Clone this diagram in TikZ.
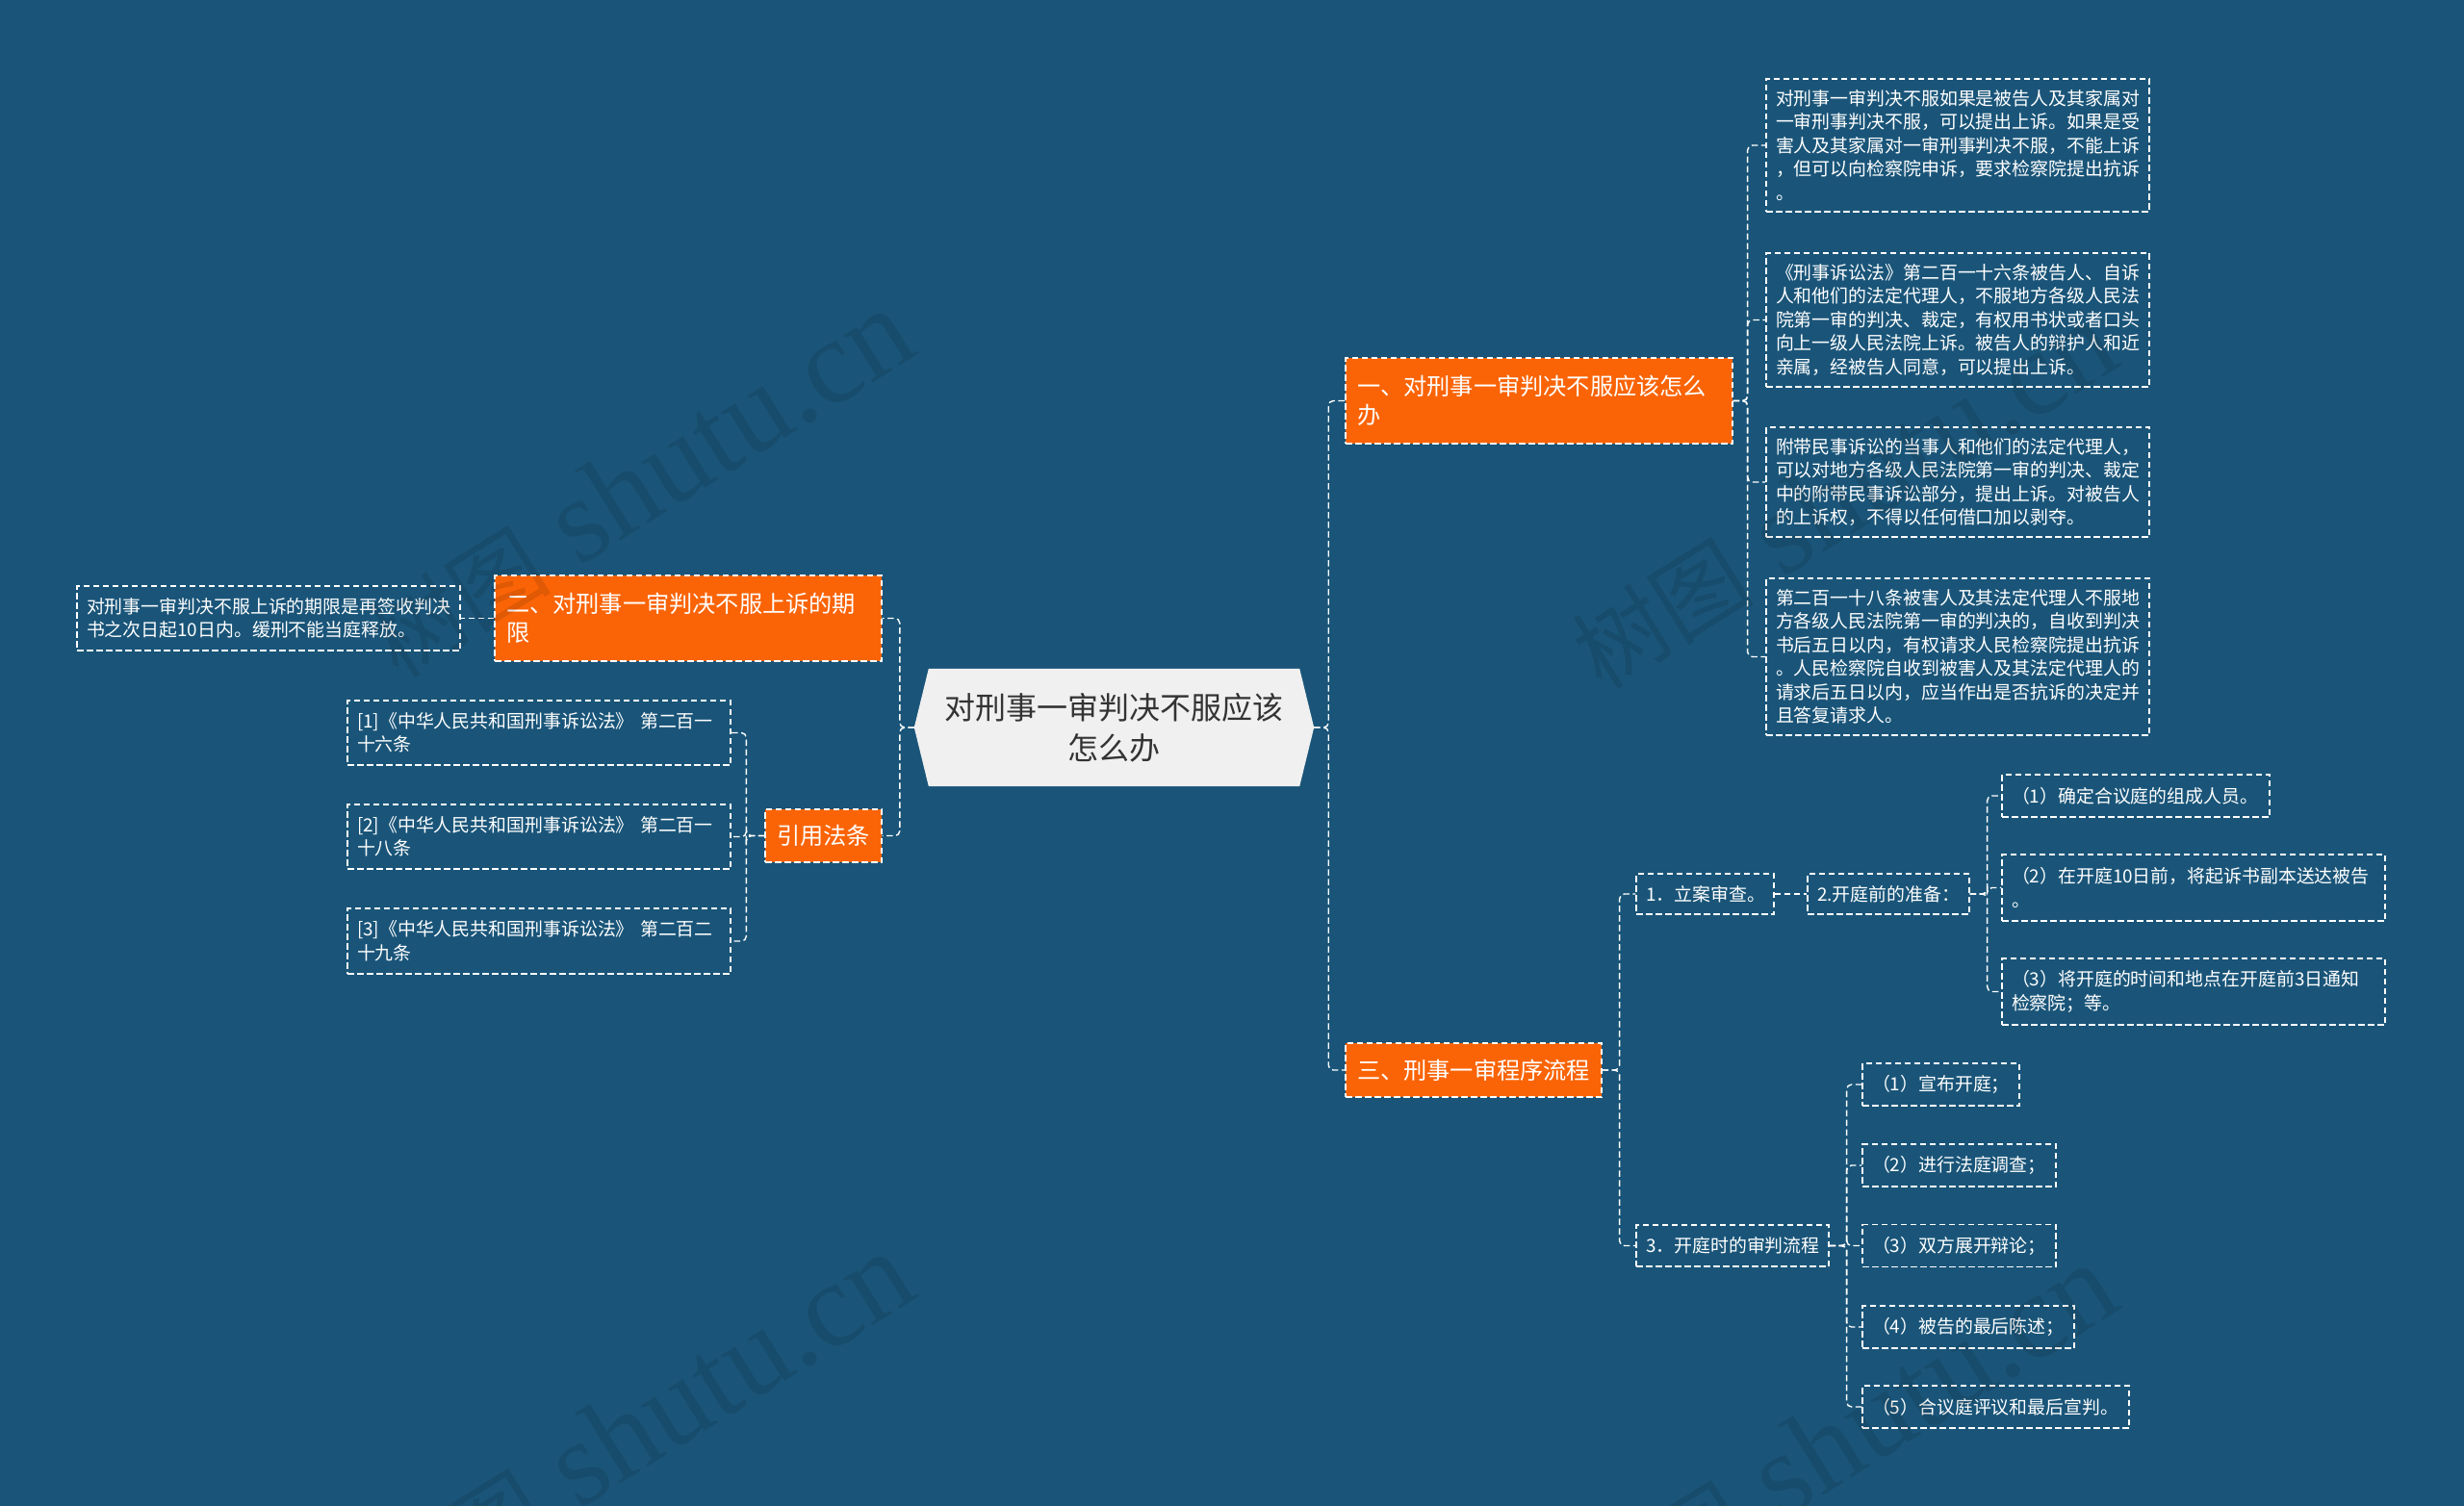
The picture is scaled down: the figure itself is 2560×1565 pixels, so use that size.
\documentclass[tikz,border=0pt]{standalone}
\usepackage{fontspec}
\setmainfont{Noto Sans CJK SC}
\newfontfamily\wmserif{Liberation Serif}
\usetikzlibrary{backgrounds}
\definecolor{bgblue}{RGB}{26,85,121}
\definecolor{orangefill}{RGB}{250,100,6}
\definecolor{hexfill}{RGB}{240,240,240}
\definecolor{darktext}{RGB}{51,51,51}
\begin{document}
\begin{tikzpicture}[x=1pt,y=-1pt,
  conn/.style={draw=white, line width=1.4pt, dash pattern=on 6.5pt off 3.5pt, rounded corners=5pt},
  leaf/.style={draw=white, line width=1.3pt, dash pattern=on 6.5pt off 3.5pt, text=white,
    font=\fontsize{18.9}{24.5}\selectfont, inner xsep=10pt, inner ysep=3pt, align=left},
  branch/.style={draw=white, line width=1.3pt, dash pattern=on 6.5pt off 3.5pt, fill=orangefill,
    text=white, font=\fontsize{24.2}{30}\selectfont, inner xsep=12pt, inner ysep=3pt, align=left},
  rootbox/.style={text=darktext, font=\fontsize{32}{42}\selectfont, align=center,
    text width=380pt, inner xsep=17.5pt, inner ysep=3pt, minimum height=122pt},
  sz/.style 2 args={text width=#1pt, minimum height=#2pt},
  wm/.style={rotate=32, text=black, text opacity=0.1, font=\fontsize{125}{125}\wmserif}
]
\useasboundingbox (0,0) rectangle (2560,1565);
\begin{scope}[on background layer]
  \fill[bgblue] (0,0) rectangle (2560,1565);
\end{scope}

% root
\node[rootbox] (c) at (1157.5,756) {对刑事一审判决不服应该\\怎么办};
\begin{scope}[on background layer]
  \fill[hexfill] (c.west) -- ([xshift=15pt]c.north west) -- ([xshift=-15pt]c.north east)
    -- (c.east) -- ([xshift=-15pt]c.south east) -- ([xshift=15pt]c.south west) -- cycle;
\end{scope}

% main branches
\node[branch, sz={378}{89}] (b1) at (1599,416.5) {一、对刑事一审判决不服应该怎么\\办};
\node[branch, sz={378}{89}] (b2) at (715,642.5) {二、对刑事一审判决不服上诉的期\\限};
\node[branch, sz={97}{55}] (b4) at (855.5,868.5) {引用法条};
\node[branch, sz={242}{56}] (b3) at (1531,1112) {三、刑事一审程序流程};

% branch 1 leaves
\node[leaf, sz={378}{138}] (r1) at (2034,151) {对刑事一审判决不服如果是被告人及其家属对\\一审刑事判决不服，可以提出上诉。如果是受\\害人及其家属对一审刑事判决不服，不能上诉\\，但可以向检察院申诉，要求检察院提出抗诉\\。};
\node[leaf, sz={378}{139}] (r2) at (2034,332.5) {《刑事诉讼法》第二百一十六条被告人、自诉\\人和他们的法定代理人，不服地方各级人民法\\院第一审的判决、裁定，有权用书状或者口头\\向上一级人民法院上诉。被告人的辩护人和近\\亲属，经被告人同意，可以提出上诉。};
\node[leaf, sz={378}{114}] (r3) at (2034,501) {附带民事诉讼的当事人和他们的法定代理人，\\可以对地方各级人民法院第一审的判决、裁定\\中的附带民事诉讼部分，提出上诉。对被告人\\的上诉权，不得以任何借口加以剥夺。};
\node[leaf, sz={378}{163}] (r4) at (2034,682.5) {第二百一十八条被害人及其法定代理人不服地\\方各级人民法院第一审的判决的，自收到判决\\书后五日以内，有权请求人民检察院提出抗诉\\。人民检察院自收到被害人及其法定代理人的\\请求后五日以内，应当作出是否抗诉的决定并\\且答复请求人。};

% branch 2 leaf
\node[leaf, sz={378}{67}] (l1) at (279,642.5) {对刑事一审判决不服上诉的期限是再签收判决\\书之次日起10日内。缓刑不能当庭释放。};

% citations
\node[leaf, sz={378}{67}] (k1) at (560,761.5) {[1]《中华人民共和国刑事诉讼法》 第二百一\\十六条};
\node[leaf, sz={378}{67}] (k2) at (560,869.5) {[2]《中华人民共和国刑事诉讼法》 第二百一\\十八条};
\node[leaf, sz={378}{68}] (k3) at (560,978) {[3]《中华人民共和国刑事诉讼法》 第二百二\\十九条};

% branch 3 subtree
\node[leaf, sz={123}{42}] (s1) at (1771.5,929) {1．立案审查。};
\node[leaf, sz={148}{42}] (s2) at (1962,929) {2.开庭前的准备：};
\node[leaf, sz={258}{44}] (p1) at (2219,827) {（1）确定合议庭的组成人员。};
\node[leaf, sz={378}{69}] (p2) at (2279,922.5) {（2）在开庭10日前，将起诉书副本送达被告\\。};
\node[leaf, sz={378}{69}] (p3) at (2279,1030.5) {（3）将开庭的时间和地点在开庭前3日通知\\检察院；等。};
\node[leaf, sz={180}{43}] (s3) at (1800,1294.5) {3．开庭时的审判流程};
\node[leaf, sz={143}{44}] (q1) at (2016.5,1127) {（1）宣布开庭；};
\node[leaf, sz={181}{44}] (q2) at (2035.5,1211) {（2）进行法庭调查；};
\node[leaf, sz={181}{44}] (q3) at (2035.5,1294.5) {（3）双方展开辩论；};
\node[leaf, sz={200}{44}] (q4) at (2045,1379) {（4）被告的最后陈述；};
\node[leaf, sz={257}{44}] (q5) at (2073.5,1462) {（5）合议庭评议和最后宣判。};

% connectors
\draw[conn] (c.east) -- ++(15,0) |- (b1.west);
\draw[conn] (c.east) -- ++(15,0) |- (b3.west);
\draw[conn] (c.west) -- ++(-15,0) |- (b2.east);
\draw[conn] (c.west) -- ++(-15,0) |- (b4.east);
\foreach \n in {r1,r2,r3,r4} \draw[conn] (b1.east) -- ++(15,0) |- (\n.west);
\draw[conn] (b2.west) -- (l1.east);
\foreach \n in {k1,k2,k3} \draw[conn] (b4.west) -- ++(-19,0) |- (\n.east);
\foreach \n in {s1,s3} \draw[conn] (b3.east) -- ++(18,0) |- (\n.west);
\draw[conn] (s1.east) -- (s2.west);
\foreach \n in {p1,p2,p3} \draw[conn] (s2.east) -- ++(18,0) |- (\n.west);
\foreach \n in {q1,q2,q3,q4,q5} \draw[conn] (s3.east) -- ++(18,0) |- (\n.west);

% watermarks
\node[wm] (wm1) at (665,503) {{\rmfamily\fontsize{95}{95}\selectfont 树图} shutu.cn};
\node[wm] (wm2) at (1915,515) {{\rmfamily\fontsize{95}{95}\selectfont 树图} shutu.cn};
\node[wm] (wm3) at (665,1483) {{\rmfamily\fontsize{95}{95}\selectfont 树图} shutu.cn};
\node[wm] (wm4) at (1915,1495) {{\rmfamily\fontsize{95}{95}\selectfont 树图} shutu.cn};
\end{tikzpicture}
\end{document}
